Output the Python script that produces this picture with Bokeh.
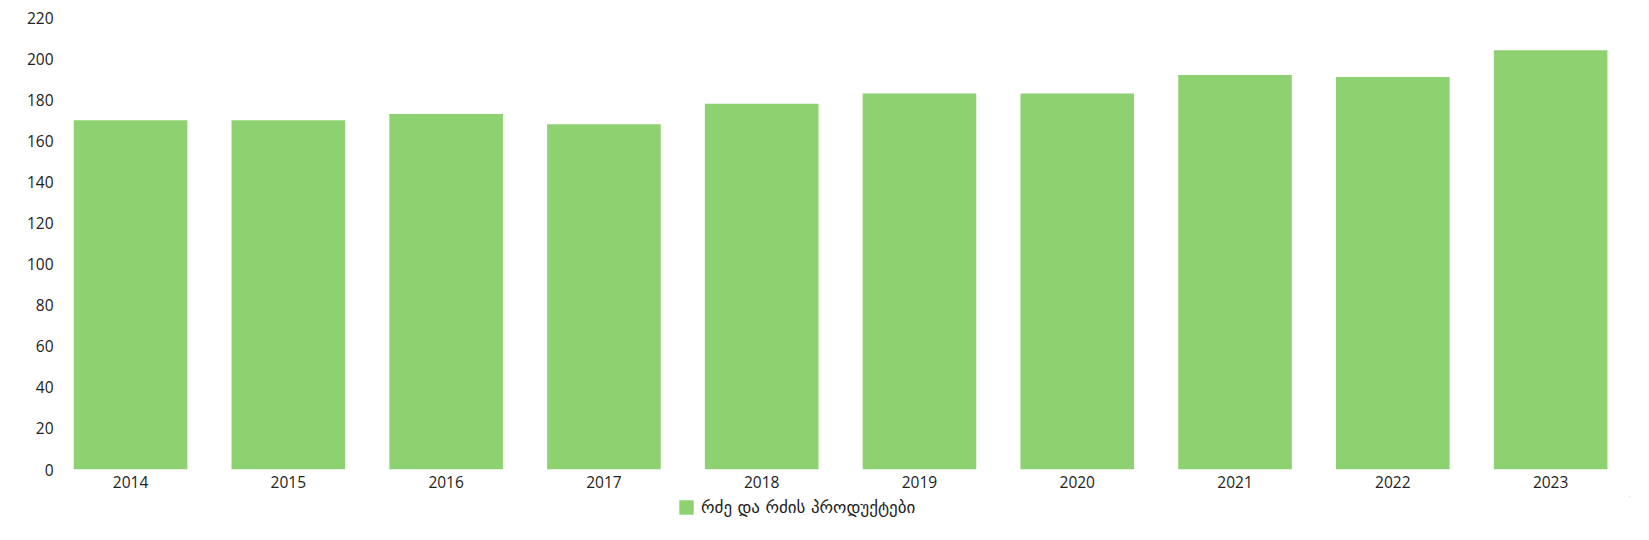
from bokeh.plotting import figure
from bokeh.layouts import column
from bokeh.models import ColumnDataSource, Range1d, FixedTicker, Legend, LegendItem
from bokeh.embed import file_html
from bokeh.resources import INLINE

years = [2014, 2015, 2016, 2017, 2018, 2019, 2020, 2021, 2022, 2023]
values = [170, 170, 173, 168, 178, 183, 183, 192, 191, 204]
series_name = "რძე და რძის პროდუქტები"
y_ticks = [0, 20, 40, 60, 80, 100, 120, 140, 160, 180, 200, 220]

BAR_COLOR = "#8DD170"
TEXT_COLOR = "#222222"
FONT = "Open Sans"

src = ColumnDataSource(dict(year=years, value=values))

p = figure(
    width=1649, height=496,
    x_range=Range1d(2013.556, 2023.5),
    y_range=Range1d(0, 220),
    output_backend="svg", toolbar_location=None,
    min_border_left=60, min_border_right=20, min_border_top=17, min_border_bottom=27,
)
r = p.vbar(x="year", top="value", width=0.72, source=src,
           fill_color=BAR_COLOR, line_color=None)

p.xgrid.visible = False
p.ygrid.visible = False
p.outline_line_color = None
p.background_fill_color = "white"
p.border_fill_color = "white"

p.xaxis.ticker = FixedTicker(ticks=years)
p.yaxis.ticker = FixedTicker(ticks=y_ticks)
for ax in (p.xaxis[0], p.yaxis[0]):
    ax.axis_line_color = None
    ax.major_tick_line_color = None
    ax.minor_tick_line_color = None
    ax.major_tick_out = 0
    ax.major_tick_in = 0
    ax.minor_tick_out = 0
    ax.major_label_text_font = FONT
    ax.major_label_text_font_size = "15.5px"
    ax.major_label_text_color = TEXT_COLOR
p.xaxis.major_label_standoff = 6
p.yaxis.major_label_standoff = 7

# legend strip below the chart (its bar renderer lies outside the visible ranges)
leg = figure(
    width=1649, height=44,
    x_range=Range1d(0, 1), y_range=Range1d(-10, -5),
    output_backend="svg", toolbar_location=None,
    min_border_left=0, min_border_right=0, min_border_top=0, min_border_bottom=0,
)
leg.axis.visible = False
leg.grid.visible = False
leg.outline_line_color = None
leg.border_fill_color = "white"
r2 = leg.vbar(x="year", top="value", width=0.72, source=src,
              fill_color=BAR_COLOR, line_color=None)

legend = Legend(items=[LegendItem(label=series_name, renderers=[r2])],
                location=(617, 23.2), orientation="horizontal",
                glyph_width=18, glyph_height=18, label_standoff=6,
                padding=3, margin=0, border_line_color=None,
                label_text_font="DejaVu Sans", label_text_font_size="17px",
                label_text_color=TEXT_COLOR, background_fill_alpha=0)
leg.add_layout(legend)

layout = column(p, leg, spacing=0)
open("out.html", "w").write(file_html(layout, INLINE))
